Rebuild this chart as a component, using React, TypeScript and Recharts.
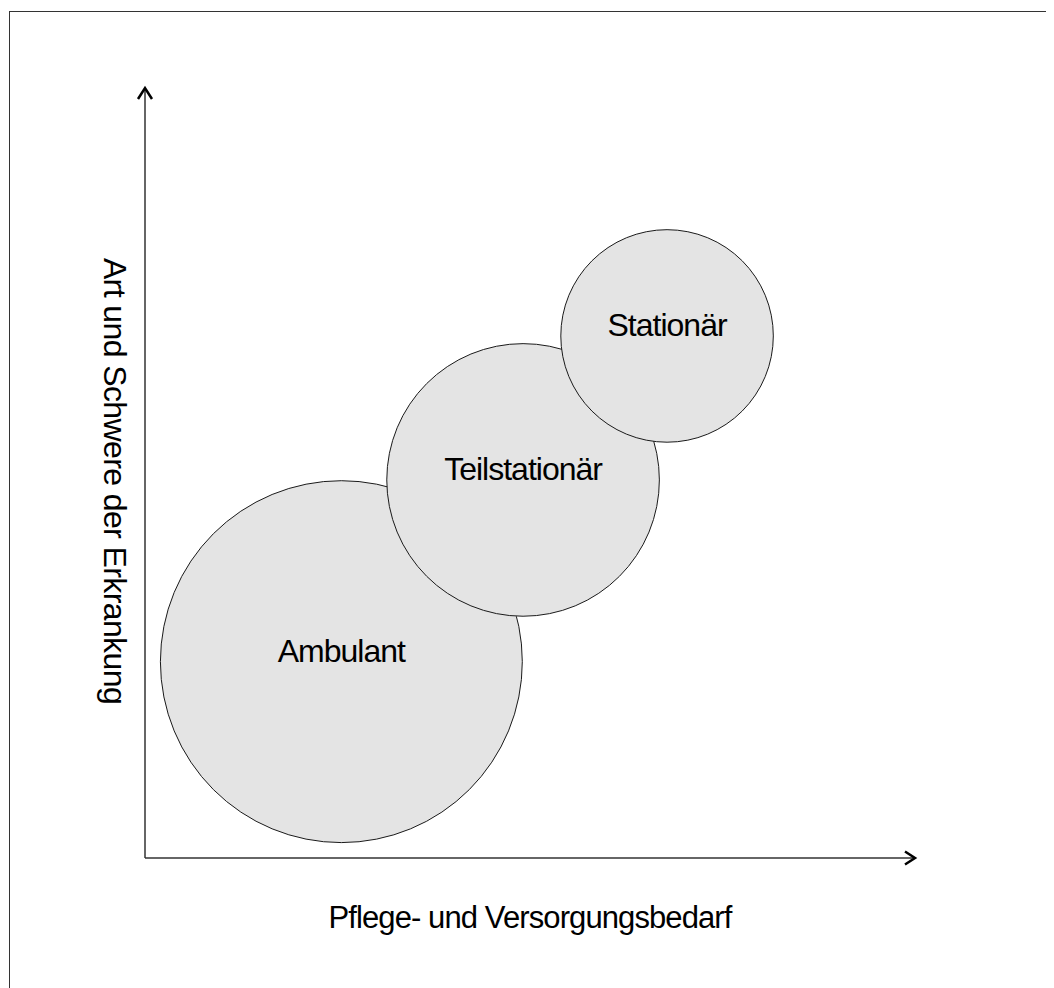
import React from 'react';
import { ScatterChart, Scatter, XAxis, YAxis, ReferenceDot, Label } from 'recharts';

// ---- data ----
const categories = ['Ambulant', 'Teilstationär', 'Stationär'];
const careNeed = [25.5, 49.1, 67.8]; // x: Pflege- und Versorgungsbedarf
const severity = [25.5, 49.1, 67.8]; // y: Art und Schwere der Erkrankung
const bubbleRadius = [23.5, 17.7, 13.8]; // radius in axis units
const xTitle = 'Pflege- und Versorgungsbedarf';
const yTitle = 'Art und Schwere der Erkrankung';
const X_DOMAIN: [number, number] = [0, 100];
const Y_DOMAIN: [number, number] = [0, 100];

const data = categories.map((name, i) => ({ name, x: careNeed[i], y: severity[i], rad: bubbleRadius[i] }));

// ---- layout ----
const W = 1046;
const H = 980;
const MARGIN = { top: 80, right: 139, bottom: 129, left: 136 };
const PLOT_W = W - MARGIN.left - 1 - MARGIN.right;
const PX_PER_UNIT = PLOT_W / (X_DOMAIN[1] - X_DOMAIN[0]);
const FONT = '"Liberation Sans", Arial, Helvetica, sans-serif';

const Bubble = (props: any) => {
  const { cx, cy, payload } = props;
  const r = payload.rad * PX_PER_UNIT;
  return (
    <g>
      <circle cx={cx} cy={cy} r={r} fill="#e4e4e4" stroke="#1a1a1a" strokeWidth={1} />
      <text x={cx} y={cy} textAnchor="middle" fontFamily={FONT} fontSize={32} letterSpacing={-1} fill="#000">
        {payload.name}
      </text>
    </g>
  );
};

const ArrowRight = (props: any) => {
  const { cx, cy } = props;
  return (
    <polyline
      points={`${cx - 10},${cy - 6.5} ${cx},${cy} ${cx - 10},${cy + 6.5}`}
      fill="none"
      stroke="#000"
      strokeWidth={2.5}
    />
  );
};

const ArrowUp = (props: any) => {
  const { cx, cy } = props;
  return (
    <polyline
      points={`${cx - 7},${cy + 11} ${cx},${cy} ${cx + 7},${cy + 11}`}
      fill="none"
      stroke="#000"
      strokeWidth={2.5}
    />
  );
};

const XTitle = (props: any) => {
  const vb = props.viewBox || {};
  return (
    <text x={vb.x + vb.width / 2} y={vb.y + 70} textAnchor="middle" fontFamily={FONT} fontSize={31} letterSpacing={-0.9} fill="#000">
      {xTitle}
    </text>
  );
};

const YTitle = (props: any) => {
  const vb = props.viewBox || {};
  const x = vb.x - 40;
  const y = vb.y + vb.height / 2 + 8;
  return (
    <text x={x} y={y} transform={`rotate(90, ${x}, ${y})`} textAnchor="middle" fontFamily={FONT} fontSize={32} letterSpacing={-0.6} fill="#000">
      {yTitle}
    </text>
  );
};

export default function App() {
  return (
    <div style={{ position: 'relative', width: W, height: H }}>
      <div
        style={{
          position: 'absolute',
          left: 1,
          top: 3,
          width: W - 1,
          height: H - 3,
          borderTop: '1px solid #333',
          borderLeft: '1px solid #333',
          boxSizing: 'border-box',
        }}
      />
      <div style={{ position: 'absolute', left: 0, top: 0 }}>
        <ScatterChart width={W} height={H} margin={MARGIN}>
          <XAxis
            type="number"
            dataKey="x"
            domain={X_DOMAIN}
            allowDataOverflow
            tick={false}
            tickLine={false}
            height={1}
            axisLine={{ stroke: '#333', strokeWidth: 1.5 }}
          >
            <Label content={<XTitle />} />
          </XAxis>
          <YAxis
            type="number"
            dataKey="y"
            domain={Y_DOMAIN}
            allowDataOverflow
            tick={false}
            tickLine={false}
            width={1}
            axisLine={{ stroke: '#333', strokeWidth: 1.5 }}
          >
            <Label content={<YTitle />} />
          </YAxis>
          <Scatter data={data} shape={<Bubble />} isAnimationActive={false} />
          <ReferenceDot x={X_DOMAIN[1]} y={Y_DOMAIN[0]} ifOverflow="visible" shape={<ArrowRight />} />
          <ReferenceDot x={X_DOMAIN[0]} y={Y_DOMAIN[1]} ifOverflow="visible" shape={<ArrowUp />} />
        </ScatterChart>
      </div>
    </div>
  );
}
